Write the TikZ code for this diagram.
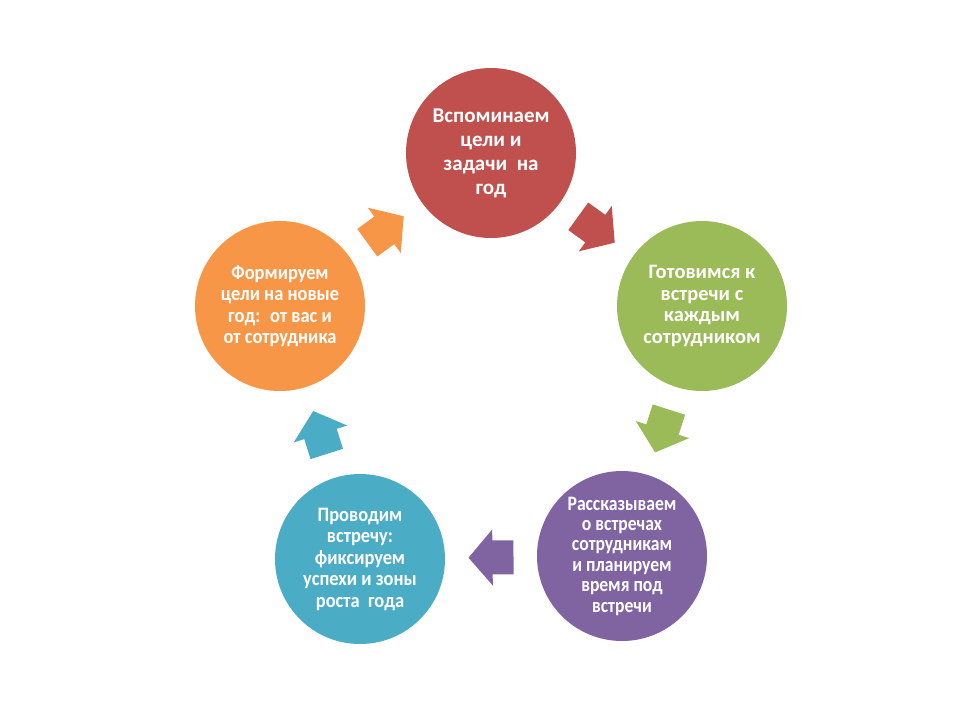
\documentclass[tikz,border=0pt]{standalone}
\usepackage{fontspec}
\setmainfont{Carlito}
\newfontfamily\condA[FakeStretch=0.86]{Carlito}
\newfontfamily\condB[FakeStretch=0.90]{Carlito}
\usetikzlibrary{calc}
\definecolor{cRed}{HTML}{C0504D}
\definecolor{cGreen}{HTML}{9BBB59}
\definecolor{cPurple}{HTML}{8064A2}
\definecolor{cBlue}{HTML}{4BACC6}
\definecolor{cOrange}{HTML}{F79646}
\tikzset{
  stage/.style={circle, minimum size=170pt, inner sep=0pt, fill=#1, text=white,
    align=center, font=\fontsize{20.5}{21.5}\selectfont\bfseries},
  cyc arrow/.pic={\fill[pic actions] (-22.5,-17) -- (-1.5,-17) -- (-1.5,-28) -- (22.5,0)
      -- (-1.5,28) -- (-1.5,17) -- (-22.5,17) -- cycle;},
}
\begin{document}
\begin{tikzpicture}[x=1pt,y=-1pt]
\useasboundingbox[fill=white] (0,0) rectangle (960,720);
\node[stage=cRed, font=\fontsize{21}{24}\selectfont\bfseries] (s1) at (491,153) {Вспоминаем\\цели и\\задачи~ на\\год};
\node[stage=cGreen] (s2) at (702,306) {Готовимся к\\встречи с\\каждым\\сотрудником};
\node[stage=cPurple, font=\condA\fontsize{20.5}{20.4}\selectfont\bfseries] (s3) at (622,556) {Рассказываем\\о встречах\\сотрудникам\\и планируем\\время под\\встречи};
\node[stage=cBlue, font=\condB\fontsize{20.5}{21.5}\selectfont\bfseries] (s4) at (360,559) {Проводим\\встречу:\\фиксируем\\успехи и зоны\\роста~ года};
\node[stage=cOrange, font=\condB\fontsize{20.5}{21.5}\selectfont\bfseries] (s5) at (280,306) {Формируем\\цели на новые\\год:~ от вас и\\от сотрудника};
\path (s1.center) -- (s2.center) pic[midway, sloped, allow upside down, fill=cRed] {cyc arrow};
\path (s2.center) -- (s3.center) pic[midway, sloped, allow upside down, fill=cGreen] {cyc arrow};
\path (s3.center) -- (s4.center) pic[midway, sloped, allow upside down, fill=cPurple] {cyc arrow};
\path (s4.center) -- (s5.center) pic[midway, sloped, allow upside down, fill=cBlue] {cyc arrow};
\path (s5.center) -- (s1.center) pic[midway, sloped, allow upside down, fill=cOrange] {cyc arrow};
\end{tikzpicture}
\end{document}
